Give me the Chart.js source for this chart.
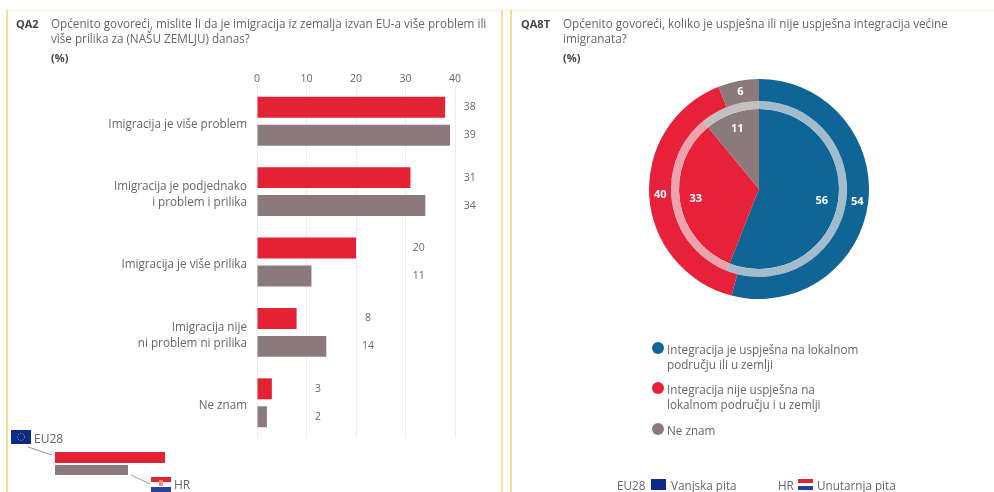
<!DOCTYPE html>
<html lang="hr">
  <head>
    <meta charset="UTF-8" />
    <script src="https://cdn.jsdelivr.net/npm/chart.js"></script>
    <style>
      body {
        margin: 0;
        background: #fff;
        font-family: "Open Sans", sans-serif;
        font-size: 11.7px;
        color: #666;
      }
      #page {
        position: relative;
        width: 994px;
        height: 492px;
        overflow: hidden;
        filter: blur(0.6px);
      }
      #page > * { position: absolute; }
      .line { background: #f8dd98; }
      .txt { white-space: nowrap; line-height: 15px; }
      .code { font-weight: 700; color: #444; font-size: 11px; }
      canvas { display: block; }
      .dot { width: 12px; height: 12px; border-radius: 50%; }
      svg { display: block; }
    </style>
  </head>
  <body>
    <div id="page">
      <div class="line" style="left:6px;top:10px;width:988px;height:1px;background:#fdf2d2"></div>
      <div class="line" style="left:6px;top:10px;width:2px;height:482px"></div>
      <div class="line" style="left:501px;top:10px;width:2px;height:482px"></div>
      <div class="line" style="left:510px;top:10px;width:2px;height:482px"></div>

      <div class="txt code" style="left:16px;top:16px">QA2</div>
      <div class="txt" style="left:51px;top:16px">Općenito govoreći, mislite li da je imigracija iz zemalja izvan EU-a više problem ili<br />više prilika za (NAŠU ZEMLJU) danas?</div>
      <div class="txt code" style="left:51px;top:50px">(%)</div>

      <div class="txt code" style="left:521px;top:16px">QA8T</div>
      <div class="txt" style="left:563px;top:16px">Općenito govoreći, koliko je uspješna ili nije uspješna integracija većine<br />imigranata?</div>
      <div class="txt code" style="left:563px;top:50px">(%)</div>

      <div style="left:100px;top:60px;width:390px;height:378px"><canvas id="barChart"></canvas></div>
      <div style="left:649px;top:79px;width:220px;height:220px"><canvas id="pieChart"></canvas></div>

      <!-- bar key -->
      <svg style="left:11px;top:430px" width="20" height="14"><rect width="20" height="14" fill="#0b2a8a" /><circle cx="10" cy="7" r="3.5" fill="none" stroke="#c9b640" stroke-dasharray="1 1.5" /></svg>
      <div class="txt" style="left:34px;top:431px;font-size:12px">EU28</div>
      <svg style="left:26px;top:445px" width="30" height="12"><line x1="2" y1="2" x2="26" y2="10" stroke="#999" /></svg>
      <div style="left:55px;top:452px;width:110px;height:11px;background:#e32233"></div>
      <div style="left:55px;top:465px;width:73px;height:10px;background:#8a7a7c"></div>
      <svg style="left:128px;top:474px" width="24" height="12"><line x1="3" y1="1" x2="22" y2="10" stroke="#999" /></svg>
      <svg style="left:151px;top:477px" width="20" height="15"><rect width="20" height="5" fill="#e32233" /><rect y="5" width="20" height="5" fill="#fff" /><rect y="10" width="20" height="5" fill="#2b3f9e" /><rect x="8" y="3" width="4" height="6" fill="#e88" /></svg>
      <div class="txt" style="left:174px;top:477px;font-size:12px">HR</div>

      <!-- pie key -->
      <div class="dot" style="left:652px;top:342px;background:#0f6596"></div>
      <div class="txt" style="left:667px;top:342px" id="key0"></div>
      <div class="dot" style="left:652px;top:382px;background:#e8213a"></div>
      <div class="txt" style="left:667px;top:382px" id="key1"></div>
      <div class="dot" style="left:652px;top:423px;background:#8a7a7c"></div>
      <div class="txt" style="left:667px;top:423px" id="key2"></div>

      <div class="txt" style="left:617px;top:478px">EU28</div>
      <svg style="left:651px;top:479px" width="15" height="11"><rect width="15" height="11" fill="#0b2a8a" /></svg>
      <div class="txt" style="left:671px;top:478px">Vanjska pita</div>
      <div class="txt" style="left:778px;top:478px">HR</div>
      <svg style="left:798px;top:479px" width="15" height="11"><rect width="15" height="4" fill="#e32233" /><rect y="4" width="15" height="3" fill="#fff" /><rect y="7" width="15" height="4" fill="#2b3f9e" /></svg>
      <div class="txt" style="left:817px;top:478px">Unutarnja pita</div>
    </div>

    <script>
      // bar chart data, QA2
      const categories = [
        "Imigracija je više problem",
        ["Imigracija je podjednako", "i problem i prilika"],
        "Imigracija je više prilika",
        ["Imigracija nije", "ni problem ni prilika"],
        "Ne znam",
      ];
      const eu28Values = [38, 31, 20, 8, 3];
      const hrValues = [39, 34, 11, 14, 2];
      const xTicks = [0, 10, 20, 30, 40];
      // where the value labels sit in each row, in axis units
      const labelColumn = [43, 43, 32.7, 22.4, 12.3];

      // pie chart data, QA8T
      const pieLabels = [
        ["Integracija je uspješna na lokalnom", "području ili u zemlji"],
        ["Integracija nije uspješna na", "lokalnom području i u zemlji"],
        ["Ne znam"],
      ];
      const pieOuter = [54, 40, 6]; // EU28
      const pieInner = [56, 33, 11]; // HR

      const red = "#e8213a";
      const grey = "#8a7a7c";
      const blue = "#0f6596";

      pieLabels.forEach((l, i) => {
        document.getElementById("key" + i).innerHTML = l.join("<br />");
      });

      const barValueLabels = {
        id: "barValueLabels",
        afterDatasetsDraw(chart) {
          const { ctx, scales } = chart;
          ctx.save();
          ctx.font = "10.5px 'Open Sans', sans-serif";
          ctx.fillStyle = "#666";
          ctx.textAlign = "center";
          ctx.textBaseline = "middle";
          chart.data.datasets.forEach((ds, d) => {
            chart.getDatasetMeta(d).data.forEach((bar, i) => {
              ctx.fillText(ds.data[i], scales.x.getPixelForValue(labelColumn[i]), bar.y);
            });
          });
          ctx.restore();
        },
      };

      new Chart(document.getElementById("barChart"), {
        type: "bar",
        data: {
          labels: categories,
          datasets: [
            { label: "EU28", data: eu28Values, backgroundColor: "#e32233" },
            { label: "HR", data: hrValues, backgroundColor: grey },
          ],
        },
        options: {
          indexAxis: "y",
          responsive: true,
          maintainAspectRatio: false,
          animation: false,
          categoryPercentage: 0.794,
          barPercentage: 0.75,
          layout: { padding: { right: 35 } },
          plugins: { legend: { display: false }, tooltip: { enabled: false } },
          scales: {
            x: {
              position: "top",
              min: 0,
              max: 40,
              afterBuildTicks(axis) {
                axis.ticks = xTicks.map((v) => ({ value: v }));
              },
              afterFit(axis) {
                axis.height = 26;
              },
              grid: { color: "#efeeee", drawTicks: false },
              border: { display: false },
              ticks: {
                color: "#666",
                font: { family: "'Open Sans', sans-serif", size: 10.5 },
                padding: 1,
                maxRotation: 0,
              },
            },
            y: {
              afterFit(axis) {
                axis.width = 157;
                axis.paddingTop = 0;
                axis.paddingBottom = 0;
              },
              grid: { display: false, drawTicks: false },
              border: { display: false },
              ticks: {
                color: "#666",
                font: { family: "'Open Sans', sans-serif", size: 11.7, lineHeight: 1.4 },
                padding: 10,
                labelOffset: 3,
                autoSkip: false,
              },
            },
          },
        },
        plugins: [barValueLabels],
      });

      const pieValueLabels = {
        id: "pieValueLabels",
        afterDatasetsDraw(chart) {
          const { ctx } = chart;
          ctx.save();
          ctx.font = "bold 11px 'Open Sans', sans-serif";
          ctx.fillStyle = "#fff";
          ctx.textAlign = "center";
          ctx.textBaseline = "middle";
          [[0, 0.5], [2, 0.8]].forEach(([d, k]) => {
            chart.getDatasetMeta(d).data.forEach((arc, i) => {
              const mid = (arc.startAngle + arc.endAngle) / 2;
              const r = arc.innerRadius + (arc.outerRadius - arc.innerRadius) * k;
              ctx.fillText(chart.data.datasets[d].data[i], arc.x + Math.cos(mid) * r, arc.y + Math.sin(mid) * r);
            });
          });
          ctx.restore();
        },
      };

      new Chart(document.getElementById("pieChart"), {
        type: "doughnut",
        data: {
          datasets: [
            { data: pieOuter, backgroundColor: [blue, red, grey], borderWidth: 0, weight: 22 },
            // pale ring between the two pies, same split as the inner one
            { data: pieInner, backgroundColor: ["#a3bccd", "#eda3ae", "#c6bfc0"], borderWidth: 0, weight: 8 },
            { data: pieInner, backgroundColor: [blue, red, grey], borderWidth: 0, weight: 80 },
          ],
        },
        options: {
          responsive: true,
          maintainAspectRatio: false,
          animation: false,
          cutout: 0,
          plugins: { legend: { display: false }, tooltip: { enabled: false } },
        },
        plugins: [pieValueLabels],
      });
    </script>
  </body>
</html>
